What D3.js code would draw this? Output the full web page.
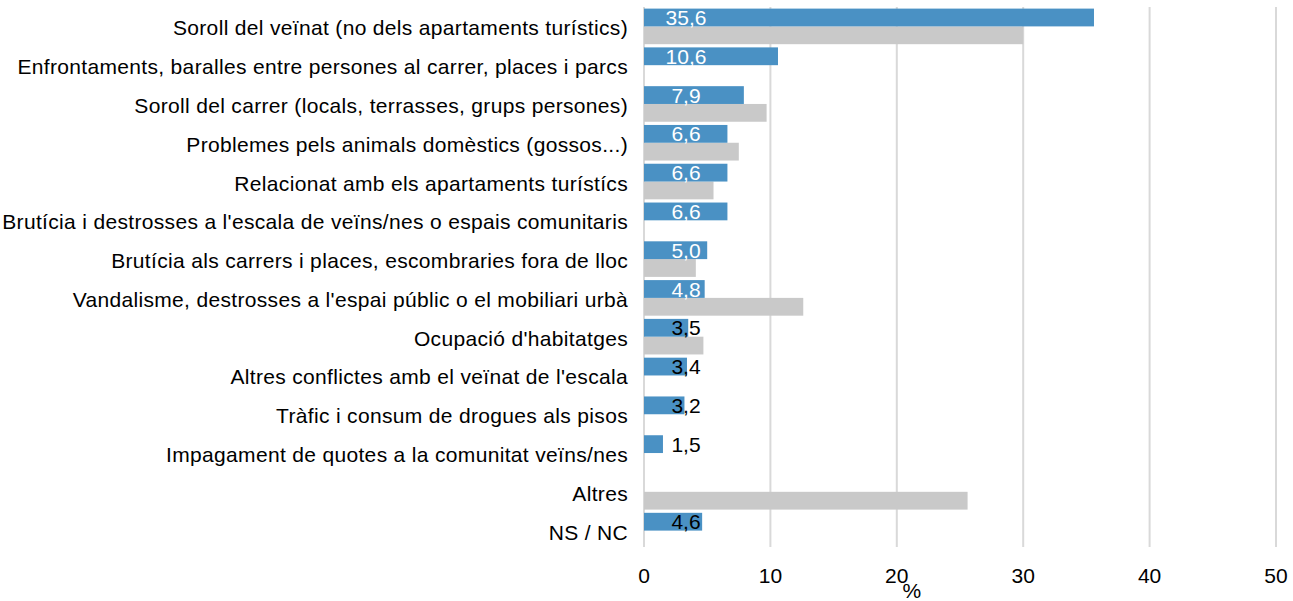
<!DOCTYPE html>
<html>
<head>
<meta charset="utf-8">
<script src="https://cdn.jsdelivr.net/npm/d3@7"></script>
<style>
  html, body { margin: 0; padding: 0; background: #fff; }
  svg text { font-family: "Liberation Sans", Arial, sans-serif; }
</style>
</head>
<body>
<svg id="chart" width="1293" height="601"></svg>
<script>
// Problemes de convivència: percentatge de respostes
const categories = [
  "Soroll del veïnat (no dels apartaments turístics)",
  "Enfrontaments, baralles entre persones al carrer, places i parcs",
  "Soroll del carrer (locals, terrasses, grups persones)",
  "Problemes pels animals domèstics (gossos...)",
  "Relacionat amb els apartaments turístícs",
  "Brutícia i destrosses a l'escala de veïns/nes o espais comunitaris",
  "Brutícia als carrers i places, escombraries fora de lloc",
  "Vandalisme, destrosses a l'espai públic o el mobiliari urbà",
  "Ocupació d'habitatges",
  "Altres conflictes amb el veïnat de l'escala",
  "Tràfic i consum de drogues als pisos",
  "Impagament de quotes a la comunitat veïns/nes",
  "Altres",
  "NS / NC"
];
const currentValues  = [35.6, 10.6, 7.9, 6.6, 6.6, 6.6, 5.0, 4.8, 3.5, 3.4, 3.2, 1.5, null, 4.6];
const previousValues = [30.0, null, 9.7, 7.5, 5.5, null, 4.1, 12.6, 4.7, null, null, null, 25.6, null];
const xTicks = [0, 10, 20, 30, 40, 50];
const axisTitle = "%";

const svg = d3.select("#chart");
const plotLeft = 644, plotRight = 1276, plotTop = 7, plotBottom = 550;
const fontSize = 21;

const x = d3.scaleLinear().domain([0, 50]).range([plotLeft, plotRight]);
const y = d3.scaleBand().domain(categories).range([plotTop, plotBottom]).paddingInner(0).paddingOuter(0);
const sub = d3.scaleBand().domain(["current", "previous"]).range([0, y.bandwidth()]).paddingOuter(0.09).paddingInner(0);

const fmt = v => d3.format(".1f")(v).replace(".", ",");

// vertical gridlines
svg.append("g").selectAll("line").data(xTicks).join("line")
  .attr("x1", d => x(d)).attr("x2", d => x(d))
  .attr("y1", plotTop).attr("y2", 547)
  .attr("stroke", "#d9d9d9").attr("stroke-width", 2);

// tick labels
svg.append("g").selectAll("text").data(xTicks).join("text")
  .attr("x", d => x(d)).attr("y", 583)
  .attr("text-anchor", "middle")
  .attr("font-size", fontSize).attr("fill", "#000")
  .text(d => d);

svg.append("text")
  .attr("x", x(20) + 15).attr("y", 598)
  .attr("text-anchor", "middle")
  .attr("font-size", fontSize).attr("fill", "#000")
  .text(axisTitle);

// category labels
svg.append("g").selectAll("text").data(categories).join("text")
  .attr("x", 628).attr("y", d => y(d) + y.bandwidth() / 2)
  .attr("dy", "0.43em")
  .attr("text-anchor", "end")
  .attr("font-size", fontSize).attr("fill", "#000")
  .attr("letter-spacing", 0.33)
  .text(d => d);

const rows = categories.map((c, i) => ({ c, cur: currentValues[i], prev: previousValues[i] }));

// previous-period bars (grey)
svg.append("g").selectAll("rect").data(rows.filter(r => r.prev != null)).join("rect")
  .attr("x", x(0)).attr("y", r => y(r.c) + sub("previous"))
  .attr("width", r => x(r.prev) - x(0)).attr("height", sub.bandwidth())
  .attr("fill", "#c9c9c9");

// current-period bars (blue)
svg.append("g").selectAll("rect").data(rows.filter(r => r.cur != null)).join("rect")
  .attr("x", x(0)).attr("y", r => y(r.c) + sub("current"))
  .attr("width", r => x(r.cur) - x(0)).attr("height", sub.bandwidth())
  .attr("fill", "#4a91c4");

// value labels for the current period; white when the label sits inside its bar
const labelX = 686;
const labels = svg.append("g").selectAll("text").data(rows.filter(r => r.cur != null)).join("text")
  .attr("x", labelX).attr("y", r => y(r.c) + sub("current") + sub.bandwidth() / 2)
  .attr("dy", "0.36em")
  .attr("text-anchor", "middle")
  .attr("font-size", fontSize)
  .text(r => fmt(r.cur));

labels.attr("fill", function (r) {
  const w = this.getComputedTextLength();
  return (labelX + w / 2 + 2 <= x(r.cur)) ? "#fff" : "#000";
});
</script>
</body>
</html>
